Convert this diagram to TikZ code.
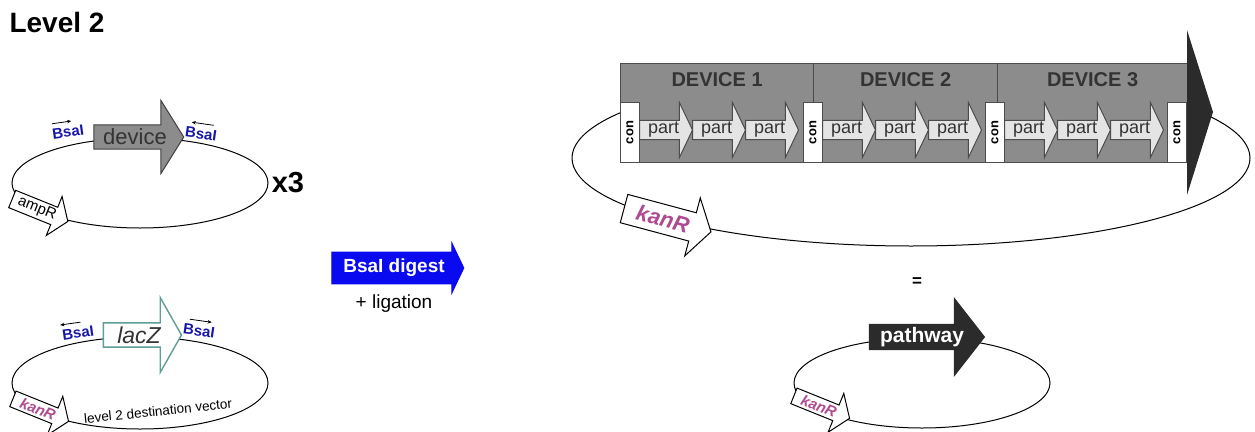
\documentclass[tikz,border=0pt]{standalone}
\usepackage{fontspec}
\setmainfont{Liberation Sans}
\setsansfont{Liberation Sans}
\usetikzlibrary{shapes.arrows, arrows.meta, calc}

\definecolor{sitebl}{HTML}{1818A8}
\definecolor{kanpink}{HTML}{B04A90}
\definecolor{lacteal}{HTML}{5E9E94}
\definecolor{devgray}{HTML}{8C8C8C}
\definecolor{partgray}{HTML}{E4E4E4}
\definecolor{darkhead}{HTML}{2B2B2B}
\definecolor{txtgray}{HTML}{333333}
\definecolor{digestbl}{HTML}{0A0AF0}

\newcommand{\fsz}[1]{\fontsize{#1}{#1}\selectfont}

\begin{document}
\begin{tikzpicture}[x=1pt, y=-1pt,
    gene/.style n args={4}{single arrow, draw, line width=1pt,
        inner xsep=0pt, inner ysep=0pt, minimum height=#1pt,
        minimum width=#2pt, single arrow head extend=#3pt,
        single arrow tip angle=#4},
    marker/.style={gene={60}{42}{9}{110}, fill=white, rotate=-22},
    plasmid/.style={line width=1pt},
    site/.style={font=\bfseries\fsz{15}, text=sitebl, inner sep=1pt},
    sitearrow/.style={-{Stealth[length=4pt, width=3.5pt]}, line width=0.8pt},
    devcell/.style={draw=black!70, line width=1.2pt, fill=devgray,
                    minimum height=99pt, inner sep=0pt},
    devlabel/.style={font=\bfseries\fsz{20}, text=txtgray},
    conbox/.style={draw=black!70, line width=1pt, fill=white, inner sep=0pt,
                   minimum width=19pt, minimum height=60pt, font=\bfseries\fsz{13}},
    part/.style={gene={53}{55}{15}{129}, fill=partgray, draw=black!70,
                 font=\fsz{18}, text=txtgray},
]
\useasboundingbox (0,0) rectangle (1255,431);

\node[anchor=west, font=\bfseries\fsz{28}] (title) at (6,22) {Level 2};

% level 1 device plasmid
\draw[plasmid] (140,183) ellipse [x radius=128pt, y radius=45pt];
\node[gene={90}{73}{17.5}{116}, fill=devgray, draw=black!75,
      font=\fsz{22}, text=txtgray] (dev) at (135,137) {device};
\node[site, rotate=8] (bs1) at (68,132) {BsaI};
\node[site, rotate=-8] (bs2) at (201,134) {BsaI};
\draw[sitearrow] ($(bs1.north west)!0.05!(bs1.north east)+(0,-4)$)
    -- ($(bs1.north west)!0.62!(bs1.north east)+(0,-4)$);
\draw[sitearrow] ($(bs2.north west)!0.85!(bs2.north east)+(0,-4)$)
    -- ($(bs2.north west)!0.2!(bs2.north east)+(0,-4)$);
\node[marker, font=\fsz{15}] (amp) at (37,209) {ampR};
\node[font=\bfseries\fsz{29}] (times) at (288,183) {x3};

% destination vector
\draw[plasmid] (140,383) ellipse [x radius=128pt, y radius=46pt];
\node[gene={78}{75}{19}{121}, fill=white, draw=lacteal, line width=1.4pt,
      font=\itshape\fsz{23}, text=txtgray] (lac) at (139,335) {lacZ};
\node[site, rotate=8] (bs3) at (78,333) {BsaI};
\node[site, rotate=-8] (bs4) at (199,331) {BsaI};
\draw[sitearrow] ($(bs3.north west)!0.6!(bs3.north east)+(0,-4)$)
    -- ($(bs3.north west)!0.0!(bs3.north east)+(0,-4)$);
\draw[sitearrow] ($(bs4.north west)!0.2!(bs4.north east)+(0,-4)$)
    -- ($(bs4.north west)!0.85!(bs4.north east)+(0,-4)$);
\node[marker, font=\bfseries\itshape\fsz{15}, text=kanpink] (kan1) at (38,409) {kanR};
\node[rotate=6, font=\fsz{13.5}] (dest) at (158,411) {level 2 destination vector};

% reaction
\node[gene={132}{50}{5.5}{129}, fill=digestbl, draw=digestbl, text=white,
      font=\bfseries\fsz{19}] (dig) at (394,268) {BsaI digest};
\node[font=\fsz{19}] (lig) at (394,304) {+ ligation};

% assembled level 2 plasmid
\draw[plasmid] (911,158) ellipse [x radius=339pt, y radius=88pt];
\node[gene={90}{60}{9}{115}, fill=white, rotate=-15,
      font=\bfseries\itshape\fsz{22}, text=kanpink] (kan2) at (663,219) {kanR};
\foreach \i/\xa/\xb in {1/620/813, 2/813/997, 3/997/1187} {
    \node[devcell, anchor=north west, minimum width={(\xb-\xa)*1pt}]
        (cell\i) at (\xa,63) {};
    \node[devlabel] (lab\i) at ($(cell\i.north)+(0,17)$) {DEVICE \i};
}
\fill[darkhead] (1187,30) -- (1213,112) -- (1187,195) -- cycle;
\foreach \x [count=\k] in {620,803,985,1167}
    \node[conbox, anchor=north west] (con\k) at (\x,102) {\rotatebox{90}{con}};
\foreach \x [count=\k] in {639,692,745,822,875,928,1004,1057,1110}
    \node[part, anchor=tail] (part\k) at (\x,130) {part};

\node[font=\bfseries\fsz{17}] (eq) at (917,282) {=};

% pathway plasmid
\draw[plasmid] (922,383) ellipse [x radius=128pt, y radius=45pt];
\node[gene={115}{77}{21}{104}, fill=darkhead, draw=darkhead, text=white,
      font=\bfseries\fsz{21}] (path) at (922,337) {pathway};
\node[marker, font=\bfseries\itshape\fsz{15}, text=kanpink] (kan3) at (819,406) {kanR};
\end{tikzpicture}
\end{document}
